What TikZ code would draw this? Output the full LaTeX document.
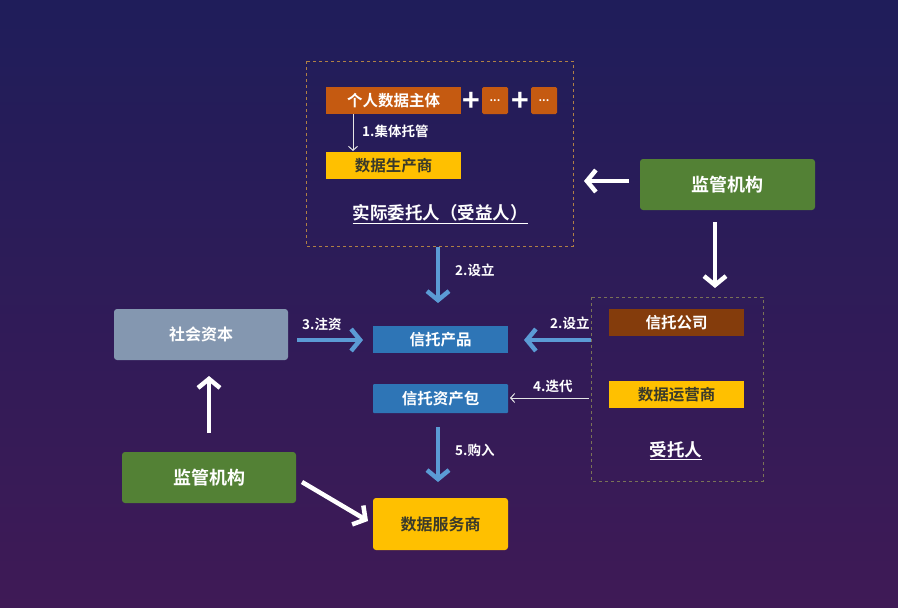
\documentclass[tikz,border=0pt]{standalone}
\usepackage{fontspec}
\setmainfont{Noto Sans CJK SC}[BoldFont={Noto Sans CJK SC Bold}]
\usetikzlibrary{arrows.meta}
\definecolor{bgtop}{HTML}{1F1D5A}
\definecolor{bgbot}{HTML}{3F1A56}
\definecolor{orng}{HTML}{C55A11}
\definecolor{ylw}{HTML}{FFC000}
\definecolor{brn}{HTML}{843C0C}
\definecolor{blu}{HTML}{2E75B6}
\definecolor{arrblu}{HTML}{5B9BD5}
\definecolor{grn}{HTML}{538135}
\definecolor{gry}{HTML}{8497B0}
\definecolor{dashc}{HTML}{B08045}
\definecolor{dashd}{HTML}{7A7257}
\definecolor{txtdark}{HTML}{3A3A2A}
\tikzset{
  rbox/.style={inner sep=0pt, font=\fontsize{15.5}{17}\selectfont\bfseries, text=white},
  ybox/.style={rbox, fill=ylw, text=txtdark},
  bigbox/.style={inner sep=0pt, rounded corners=3pt, font=\fontsize{18}{20}\selectfont\bfseries, text=white},
  lbl/.style={font=\fontsize{13.5}{15}\selectfont\bfseries, text=white, inner sep=0pt},
  ttl/.style={font=\fontsize{17.5}{19}\selectfont\bfseries, text=white, inner sep=0pt},
  plus/.style={font=\fontsize{30}{30}\selectfont\bfseries, text=white, inner sep=0pt},
  bluearr/.style={draw=arrblu, line width=4.5pt, -{Straight Barb[length=9pt,width=22pt,line width=4.5pt]}},
  whitearr/.style={draw=white, line width=4.5pt, -{Straight Barb[length=9pt,width=22pt,line width=4.5pt]}},
  thinarr/.style={draw=white!80!gray, line width=1pt, -{Straight Barb[length=4pt,width=9pt]}},
  dbox/.style={draw=dashc, dashed, dash pattern=on 3pt off 3pt, line width=0.9pt}
}
\begin{document}
\begin{tikzpicture}[x=1pt,y=-1pt]
\shade[top color=bgtop, bottom color=bgbot] (0,0) rectangle (898,608);
\useasboundingbox (0,0) rectangle (898,608);

% dashed groups
\draw[dbox] (306,61) rectangle (573,246);
\draw[dbox, draw=dashd] (591,297) rectangle (763,481);

% top group
\node[rbox, fill=orng, minimum width=135pt, minimum height=27pt] (ind) at (393.5,100.5) {个人数据主体};
\node[plus] (p1) at (471,101.5) {+};
\node[rbox, fill=orng, rounded corners=1.5pt, minimum width=26pt, minimum height=27pt, font=\fontsize{11}{12}\selectfont\bfseries] (d1) at (495,100.5) {...};
\node[plus] (p2) at (520,101.5) {+};
\node[rbox, fill=orng, rounded corners=1.5pt, minimum width=26pt, minimum height=27pt, font=\fontsize{11}{12}\selectfont\bfseries] (d2) at (544,100.5) {...};
\node[ybox, minimum width=135pt, minimum height=27pt] (prod) at (393.5,165.5) {数据生产商};
\coordinate (a1s) at (353,114);
\coordinate (a1e) at (353,151);
\draw[thinarr] (a1s) -- (a1e);
\node[lbl, anchor=west] (l1) at (362,131) {1.集体托管};
\node[ttl] (wt) at (440,214) {\underline{实际委托人（受益人）}};

% right top regulator
\node[bigbox, fill=grn, minimum width=175pt, minimum height=51pt] (reg1) at (727.5,184.5) {监管机构};
\coordinate (r1a) at (629,181);
\coordinate (r1b) at (584,181);
\draw[whitearr] (r1a) -- (r1b);
\coordinate (r1c) at (715,222);
\coordinate (r1d) at (715,288);
\draw[whitearr] (r1c) -- (r1d);

% trustee group
\node[rbox, fill=brn, minimum width=135pt, minimum height=27pt] (tc) at (676.5,322.5) {信托公司};
\node[ybox, minimum width=135pt, minimum height=27pt] (op) at (676.5,394.5) {数据运营商};
\node[ttl] (st) at (676,451) {\underline{受托人}};

% center column
\node[rbox, fill=blu, minimum width=135pt, minimum height=27pt] (tp) at (440.5,339.5) {信托产品};
\node[rbox, fill=blu, rounded corners=1pt, minimum width=135pt, minimum height=29pt] (pkg) at (440.5,398.5) {信托资产包};
\node[bigbox, fill=ylw, text=txtdark, minimum width=135pt, minimum height=52pt, font=\fontsize{16}{18}\selectfont\bfseries] (svc) at (440.5,524) {数据服务商};

\coordinate (b1s) at (438,247);
\coordinate (b1e) at (438,303);
\draw[bluearr] (b1s) -- (b1e);
\node[lbl, anchor=west] (l2a) at (455,270) {2.设立};

\coordinate (b2s) at (591,340);
\coordinate (b2e) at (524,340);
\draw[bluearr] (b2s) -- (b2e);
\node[lbl, anchor=west] (l2b) at (550,323) {2.设立};

\coordinate (b4s) at (589,398);
\coordinate (b4e) at (510,398);
\draw[thinarr] (b4s) -- (b4e);
\node[lbl, anchor=west] (l4) at (533,386) {4.迭代};

\coordinate (b5s) at (438,427);
\coordinate (b5e) at (438,482);
\draw[bluearr] (b5s) -- (b5e);
\node[lbl, anchor=west] (l5) at (455,450) {5.购入};

% left side
\node[bigbox, fill=gry, minimum width=174pt, minimum height=51pt, font=\fontsize{16}{18}\selectfont\bfseries] (sc) at (201,334.5) {社会资本};
\coordinate (b3s) at (297,340);
\coordinate (b3e) at (363,340);
\draw[bluearr] (b3s) -- (b3e);
\node[lbl, anchor=west] (l3) at (302,324) {3.注资};

\node[bigbox, fill=grn, minimum width=174pt, minimum height=51pt] (reg2) at (209,477.5) {监管机构};
\coordinate (r2a) at (209,433);
\coordinate (r2b) at (209,376);
\draw[whitearr] (r2a) -- (r2b);
\coordinate (r2c) at (302,482);
\coordinate (r2d) at (368,521);
\draw[whitearr] (r2c) -- (r2d);
\end{tikzpicture}
\end{document}
